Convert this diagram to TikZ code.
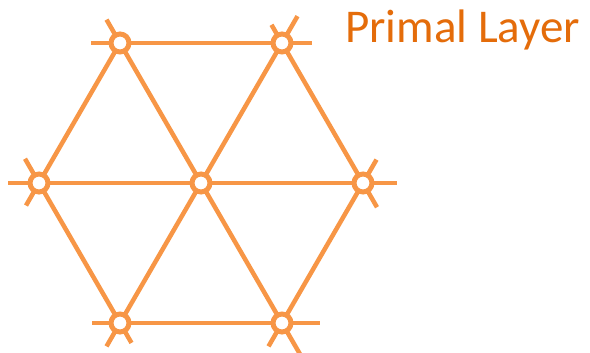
\documentclass[tikz,border=0pt]{standalone}
\usepackage{fontspec}
\setmainfont{Carlito}
\usetikzlibrary{backgrounds,calc}
\definecolor{edgeorange}{HTML}{F79646}
\definecolor{textorange}{HTML}{E46C0A}
\tikzset{
  vtx/.style={circle, draw=edgeorange, fill=white, line width=5pt, minimum size=18pt, inner sep=0pt},
  edge/.style={draw=edgeorange, line width=4.5pt},
  title/.style={text=textorange, font=\fontsize{47}{56}\selectfont, inner sep=0pt, anchor=base west}
}
\begin{document}
\begin{tikzpicture}[x=1pt,y=1pt]
\useasboundingbox (0,-353) rectangle (590,0);
% nodes
\node[vtx] (c)  at (201,-183) {};
\node[vtx] (tl) at (120,-43) {};
\node[vtx] (tr) at (282,-43) {};
\node[vtx] (l)  at (39,-183) {};
\node[vtx] (r)  at (363,-183) {};
\node[vtx] (bl) at (120,-323) {};
\node[vtx] (br) at (282,-323) {};
% stub ends
\coordinate (tlA) at ($(tl)+(180:29)$);
\coordinate (tlB) at ($(tl)+(120:27)$);
\coordinate (trA) at ($(tr)+(0:30)$);
\coordinate (trB) at ($(tr)+(60:31)$);
\coordinate (trC) at ($(tr)+(120:21)$);
\coordinate (lA) at ($(l)+(180:31)$);
\coordinate (lB) at ($(l)+(120:28)$);
\coordinate (lC) at ($(l)+(240:26)$);
\coordinate (rA) at ($(r)+(0:34)$);
\coordinate (rB) at ($(r)+(60:27)$);
\coordinate (rC) at ($(r)+(300:28)$);
\coordinate (blA) at ($(bl)+(180:28)$);
\coordinate (blB) at ($(bl)+(240:27)$);
\coordinate (blC) at ($(bl)+(300:23)$);
\coordinate (brA) at ($(br)+(0:38)$);
\coordinate (brB) at ($(br)+(240:27)$);
\coordinate (brC) at ($(br)+(300:36)$);
\begin{scope}[on background layer]
  % hexagon edges
  \draw[edge] (tl.center) -- (tr.center);
  \draw[edge] (tr.center) -- (r.center);
  \draw[edge] (r.center) -- (br.center);
  \draw[edge] (br.center) -- (bl.center);
  \draw[edge] (bl.center) -- (l.center);
  \draw[edge] (l.center) -- (tl.center);
  % spokes
  \draw[edge] (c.center) -- (tl.center);
  \draw[edge] (c.center) -- (tr.center);
  \draw[edge] (c.center) -- (l.center);
  \draw[edge] (c.center) -- (r.center);
  \draw[edge] (c.center) -- (bl.center);
  \draw[edge] (c.center) -- (br.center);
  % stubs
  \draw[edge] (tl.center) -- (tlA);
  \draw[edge] (tl.center) -- (tlB);
  \draw[edge] (tr.center) -- (trA);
  \draw[edge] (tr.center) -- (trB);
  \draw[edge] (tr.center) -- (trC);
  \draw[edge] (l.center) -- (lA);
  \draw[edge] (l.center) -- (lB);
  \draw[edge] (l.center) -- (lC);
  \draw[edge] (r.center) -- (rA);
  \draw[edge] (r.center) -- (rB);
  \draw[edge] (r.center) -- (rC);
  \draw[edge] (bl.center) -- (blA);
  \draw[edge] (bl.center) -- (blB);
  \draw[edge] (bl.center) -- (blC);
  \draw[edge] (br.center) -- (brA);
  \draw[edge] (br.center) -- (brB);
  \draw[edge] (br.center) -- (brC);
\end{scope}
\node[title] (lbl) at (345,-43) {Primal Layer};
\end{tikzpicture}
\end{document}
